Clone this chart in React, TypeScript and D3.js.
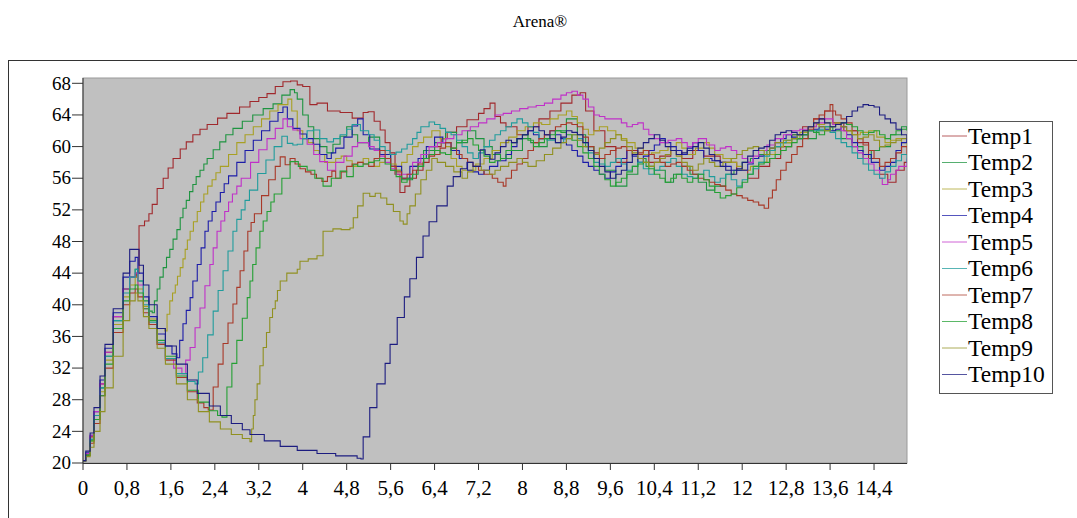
import React from 'react';
import * as d3 from 'd3';

// time (x) / temperature (y) pairs
const temp1 = [[0,20.3],[0.05,21],[0.13,23.3],[0.2,26],[0.31,30],[0.4,34],[0.55,38.5],[0.73,42],[0.85,43.5],[0.97,44],[1.02,50],[1.12,50.6],[1.2,51.5],[1.26,52.7],[1.35,54.7],[1.46,56],[1.55,57.3],[1.64,58.5],[1.77,59.7],[1.88,60.6],[2.0,61.5],[2.13,62.2],[2.26,62.8],[2.45,63.6],[2.62,64.2],[2.85,65],[3.04,65.7],[3.2,66.2],[3.35,66.7],[3.5,67.6],[3.64,68.2],[3.78,68.3],[3.9,67.8],[4.0,67.6],[4.13,65.3],[4.26,65.5],[4.45,64.5],[4.68,64.3],[4.9,63.6],[5.1,64.3],[5.19,64.4],[5.3,63.2],[5.41,62.1],[5.5,60.5],[5.59,59.2],[5.68,56.5],[5.77,54.2],[5.86,55],[5.95,56],[6.07,57],[6.19,58],[6.3,59],[6.4,60],[6.52,61],[6.63,61.8],[6.8,62.5],[6.99,63.4],[7.2,64.2],[7.3,64.8],[7.41,65.5],[7.5,63.8],[7.6,63],[7.7,62.5],[7.9,61.5],[8.1,62.5],[8.3,63.5],[8.5,64.5],[8.7,65.5],[8.9,66.5],[9.05,66.8],[9.15,64.5],[9.3,62],[9.5,60],[9.7,58],[9.9,59.5],[10.1,59],[10.3,58],[10.5,58.8],[10.7,59.5],[10.9,58.5],[11.1,59.5],[11.3,58.8],[11.6,58],[11.9,57],[12.1,56],[12.3,57.5],[12.5,58.5],[12.7,60],[12.9,61.5],[13.1,62.5],[13.3,63.5],[13.5,64.5],[13.65,63],[13.85,62],[14.1,60.5],[14.3,58.5],[14.5,56.5],[14.65,55.5],[14.8,57],[14.95,58],[15,58]];
const temp2 = [[0,20.3],[0.05,21.2],[0.13,23],[0.2,25.5],[0.31,29.5],[0.4,33.5],[0.55,38],[0.73,42],[0.85,43.5],[0.95,44.5],[1.0,43],[1.1,40.5],[1.2,39.2],[1.26,39],[1.3,40.5],[1.35,42],[1.4,43.5],[1.46,44.7],[1.52,46],[1.58,47],[1.64,48.3],[1.71,49.5],[1.77,51],[1.82,52.2],[1.88,53.2],[1.94,54.3],[2.0,55.2],[2.06,56.2],[2.13,57],[2.2,57.8],[2.26,58.5],[2.37,59.6],[2.49,60.6],[2.6,61.5],[2.73,62.3],[2.9,63.2],[3.09,64],[3.28,64.8],[3.46,65.4],[3.62,66.5],[3.77,67.2],[3.85,66.8],[3.9,66],[4.0,64],[4.1,62.5],[4.2,61],[4.31,60],[4.44,59.2],[4.55,60.3],[4.68,61.3],[4.8,62.5],[4.9,61.5],[5.0,60.5],[5.2,61.2],[5.4,59],[5.6,57],[5.8,55.8],[6.0,57.5],[6.2,59.5],[6.4,60.5],[6.6,61.8],[6.8,60.5],[7.0,62],[7.15,61],[7.3,60],[7.45,59],[7.6,58.5],[7.8,59.5],[8.0,61],[8.15,60.5],[8.3,60],[8.45,61],[8.6,62],[8.8,63.5],[9.0,61.5],[9.15,60],[9.3,58.5],[9.5,57],[9.7,55],[9.9,56.5],[10.1,58.5],[10.25,57.5],[10.4,57],[10.6,55.5],[10.75,56.5],[10.9,57.5],[11.05,56.5],[11.2,55.5],[11.35,54.5],[11.5,55],[11.7,56.5],[11.85,57],[12.0,58],[12.15,58.5],[12.3,59],[12.45,59.5],[12.6,60],[12.75,60.5],[12.9,61.5],[13.05,61.5],[13.2,61],[13.35,62],[13.5,62.5],[13.65,62],[13.8,61],[14.0,60],[14.2,58.5],[14.35,59.5],[14.5,60],[14.7,61.5],[14.9,62.5],[15,62]];
const temp3 = [[0,20.3],[0.05,21],[0.13,22.8],[0.2,25.5],[0.31,29],[0.4,33],[0.55,37.5],[0.73,41],[0.85,42.5],[0.95,43.5],[1.0,42],[1.1,39.8],[1.2,38.2],[1.35,37],[1.49,36.7],[1.53,38.8],[1.58,40.5],[1.63,41.5],[1.68,42.5],[1.72,43.6],[1.77,44.7],[1.82,45.8],[1.86,47],[1.9,48.2],[1.95,49.3],[2.01,50.5],[2.08,51.8],[2.14,53],[2.2,54],[2.27,55],[2.35,55.8],[2.42,56.7],[2.5,57.5],[2.65,59],[2.8,60.5],[2.95,61.5],[3.1,62.5],[3.25,63.5],[3.4,64.5],[3.55,65.3],[3.73,66],[3.8,64.5],[3.9,62],[4.0,61],[4.1,60.5],[4.2,59.5],[4.3,59],[4.4,58],[4.5,58],[4.6,58.5],[4.7,58.8],[4.8,58.2],[4.9,57.5],[5.0,58],[5.1,58.5],[5.2,58],[5.3,57.5],[5.4,58],[5.5,58.5],[5.6,57.8],[5.7,57],[5.8,58],[5.9,59],[6.0,60],[6.1,60.5],[6.2,61.2],[6.35,62],[6.5,61],[6.6,60],[6.7,58.5],[6.8,57.5],[6.9,57],[7.0,57],[7.15,57.8],[7.3,58.5],[7.45,59.5],[7.6,60.5],[7.75,61.2],[7.9,62],[8.05,62.5],[8.2,63],[8.35,62.8],[8.5,63.5],[8.65,64],[8.8,64.5],[8.9,63.8],[9.0,63],[9.1,62.2],[9.2,61.5],[9.3,62],[9.4,62.5],[9.55,62],[9.7,61.5],[9.8,61],[9.9,60.5],[10.05,59.8],[10.2,59],[10.35,59.2],[10.5,59.5],[10.65,60],[10.8,60.5],[10.9,59.8],[11.0,59],[11.15,59.8],[11.3,60.5],[11.4,59.8],[11.5,59],[11.65,58.5],[11.8,58],[11.9,57.5],[12.0,57],[12.15,57.5],[12.3,58],[12.45,59],[12.6,60],[12.75,60.5],[12.9,61],[13.05,61.8],[13.2,62.5],[13.35,62.8],[13.5,63],[13.65,62.8],[13.8,62.5],[13.9,62],[14.0,61.5],[14.15,61.8],[14.3,62],[14.45,61.2],[14.6,60.5],[14.7,60.8],[14.8,61],[14.9,60.5],[15,60]];
const temp4 = [[0,20.3],[0.05,21.3],[0.13,23.5],[0.2,26.5],[0.31,30.5],[0.4,34.5],[0.55,39],[0.73,43.5],[0.85,45.5],[0.95,46],[1.0,44],[1.1,41],[1.2,38.5],[1.35,36.3],[1.5,34.8],[1.62,33.8],[1.71,33.3],[1.76,35.5],[1.82,37.6],[1.88,39.3],[1.95,40.9],[2.0,43],[2.08,45.1],[2.15,47.2],[2.22,49.3],[2.28,50.6],[2.35,51.8],[2.42,53],[2.5,54.2],[2.57,55.3],[2.65,56.3],[2.8,58],[2.95,59.5],[3.1,60.8],[3.25,62],[3.4,63.2],[3.55,64.3],[3.64,65],[3.72,63.5],[3.82,62.3],[3.95,61.6],[4.07,61],[4.19,60.3],[4.31,59],[4.44,58.5],[4.52,59.2],[4.6,59.8],[4.75,61.2],[4.9,62.6],[5.0,63.5],[5.1,61.5],[5.22,59.7],[5.4,59],[5.6,57.5],[5.8,56],[5.95,57.5],[6.1,58.5],[6.25,60],[6.4,61.2],[6.55,60.5],[6.7,59.5],[6.85,58.5],[7.0,57],[7.1,56.8],[7.2,56.5],[7.3,57],[7.4,57.5],[7.55,58.2],[7.7,59],[7.8,60],[7.9,61],[8.0,61.5],[8.1,62],[8.2,61.5],[8.3,61],[8.4,61.5],[8.5,62],[8.6,61.5],[8.7,61],[8.8,60.2],[8.9,59.5],[9.0,58.8],[9.1,58],[9.2,57.5],[9.3,57],[9.4,56.5],[9.5,56],[9.6,56.8],[9.7,57.5],[9.8,58.5],[9.9,59.5],[10.0,58.8],[10.1,58],[10.2,58.8],[10.3,59.5],[10.4,60.2],[10.5,61],[10.6,60.5],[10.7,60],[10.8,59.5],[10.9,59],[11.0,59.8],[11.1,60.5],[11.2,59.5],[11.3,58.5],[11.45,58.2],[11.6,58],[11.7,57.5],[11.8,57],[12.0,57],[12.1,57.8],[12.2,58.5],[12.3,58.8],[12.4,59],[12.5,59.8],[12.6,60.5],[12.7,61],[12.8,61.5],[12.9,61.2],[13.0,61],[13.1,61.5],[13.2,62],[13.3,62.2],[13.4,62.5],[13.5,62.2],[13.6,62],[13.7,62.2],[13.8,62.5],[13.9,61.5],[14.0,60.5],[14.1,59.5],[14.2,59],[14.35,58],[14.5,57],[14.6,57.5],[14.7,58],[14.8,59.5],[14.9,60.5],[15,61]];
const temp5 = [[0,20.3],[0.05,21.2],[0.13,23.5],[0.2,26.5],[0.31,30],[0.4,34],[0.55,38.5],[0.73,42],[0.85,43.5],[0.95,44],[1.0,42.5],[1.1,39.5],[1.2,37.5],[1.35,35],[1.5,33.2],[1.65,32],[1.8,31.3],[1.87,33],[1.95,34.6],[2.04,37.1],[2.13,39.6],[2.22,42.4],[2.31,45.1],[2.37,47.2],[2.44,49.3],[2.51,50.6],[2.58,51.8],[2.65,53],[2.72,54],[2.8,55],[2.88,56],[3.05,58],[3.2,59.6],[3.35,61],[3.5,62.3],[3.64,63.5],[3.72,62.5],[3.82,62.1],[3.95,61],[4.08,60.3],[4.2,59],[4.31,58.1],[4.45,57],[4.6,58],[4.75,58.8],[4.9,60],[5.0,60.5],[5.1,60.5],[5.2,60],[5.3,59.5],[5.4,58.8],[5.5,58],[5.6,57.2],[5.7,56.5],[5.85,56.5],[6.0,58],[6.15,59],[6.3,60],[6.45,60.5],[6.6,61],[6.75,61.5],[6.9,62],[7.05,62.5],[7.2,63],[7.35,63.5],[7.5,64],[7.65,64.2],[7.8,64.5],[7.95,64.8],[8.1,65],[8.25,65.2],[8.4,65.5],[8.55,66],[8.7,66.5],[8.8,66.8],[8.9,67],[9.0,66.5],[9.1,66],[9.2,65],[9.3,64],[9.4,63.8],[9.5,63.5],[9.6,63.5],[9.7,63.5],[9.8,63],[9.9,62.5],[10.0,62.8],[10.1,63],[10.2,62.2],[10.3,61.5],[10.4,61],[10.5,60.5],[10.65,60.8],[10.8,61],[10.9,60.5],[11.0,60],[11.1,60.5],[11.2,61],[11.35,60.2],[11.5,59.5],[11.6,59.8],[11.7,60],[11.8,59.5],[11.9,59],[12.0,58.5],[12.1,58],[12.2,58.8],[12.3,59.5],[12.45,60.2],[12.6,61],[12.75,61.5],[12.9,62],[13.05,62.2],[13.2,62.5],[13.35,63],[13.5,63.5],[13.65,62.8],[13.8,62],[13.9,61],[14.0,60],[14.1,59.2],[14.2,58.5],[14.3,57.8],[14.4,57],[14.5,56],[14.55,55.2],[14.65,55.8],[14.7,56.5],[14.8,57],[14.85,57.5],[15,58.5]];
const temp6 = [[0,20.3],[0.05,21],[0.13,23],[0.2,26],[0.31,29.5],[0.4,33.5],[0.55,38],[0.73,41.5],[0.85,43.5],[0.95,44.5],[1.0,43],[1.1,40],[1.2,37.8],[1.35,35.2],[1.5,33.2],[1.7,31.3],[1.9,30.3],[2.04,30],[2.1,31.5],[2.18,33.3],[2.27,36.2],[2.37,39.2],[2.46,41.8],[2.55,44.3],[2.64,46.8],[2.73,49.3],[2.8,50.8],[2.88,52],[2.95,53.2],[3.03,54.5],[3.18,56.6],[3.33,58.3],[3.48,60],[3.62,61.3],[3.72,60.4],[3.82,60.2],[3.9,60.3],[4.0,61],[4.08,62],[4.19,62.1],[4.31,61],[4.44,60.6],[4.56,61],[4.68,61.5],[4.8,62.2],[4.9,62.8],[5.05,62],[5.2,61.5],[5.3,60.8],[5.4,60],[5.5,59.5],[5.59,59],[5.7,59.3],[5.8,59.7],[5.9,60.3],[6.0,61],[6.08,61.8],[6.15,62.5],[6.3,63.1],[6.4,62.8],[6.5,62.3],[6.6,61.8],[6.7,61.5],[6.8,60.8],[6.9,60],[7.0,59.2],[7.1,58.5],[7.2,59.2],[7.3,60],[7.4,60.8],[7.5,61.5],[7.6,62],[7.7,62.5],[7.8,63],[7.9,63.5],[8.0,63],[8.1,62.5],[8.2,61.8],[8.3,61],[8.45,60.8],[8.6,60.5],[8.75,61],[8.9,61.5],[9.0,61],[9.1,60.5],[9.2,59.2],[9.3,58],[9.4,57.8],[9.5,57.5],[9.6,58],[9.7,58.5],[9.8,57.8],[9.9,57],[10.0,57.5],[10.1,58],[10.2,57.2],[10.3,56.5],[10.4,57],[10.5,57.5],[10.6,58],[10.7,58.5],[10.8,57.5],[10.9,56.5],[11.0,56.2],[11.1,56],[11.2,56.5],[11.3,57],[11.4,56.2],[11.5,55.5],[11.6,56],[11.7,56.5],[11.8,55.8],[11.9,55],[12.0,55.8],[12.1,56.5],[12.2,57.2],[12.3,58],[12.4,58.8],[12.5,59.5],[12.6,60],[12.7,60.5],[12.8,60.8],[12.9,61],[13.0,61.5],[13.1,62],[13.2,62],[13.3,62],[13.4,62.2],[13.5,62.5],[13.6,61.8],[13.7,61],[13.8,60.5],[13.9,60],[14.0,59.2],[14.1,58.5],[14.2,57.8],[14.3,57],[14.4,56.5],[14.5,56],[14.6,56.8],[14.7,57.5],[14.8,58.2],[14.9,59],[15,58]];
const temp7 = [[0,20.3],[0.05,21],[0.13,22.5],[0.2,25],[0.31,28.5],[0.4,32],[0.55,36.5],[0.73,40],[0.85,41.5],[0.95,42],[1.0,41],[1.1,39],[1.2,37.5],[1.35,35],[1.5,33],[1.7,30.8],[1.9,29],[2.08,27.6],[2.2,27],[2.28,26.7],[2.37,29.6],[2.46,32.5],[2.55,35.1],[2.64,37.7],[2.73,40.1],[2.8,42.2],[2.86,44.3],[2.93,46.8],[3.0,49.3],[3.06,50.4],[3.12,51.5],[3.25,53.8],[3.38,55.8],[3.5,57.5],[3.59,58.7],[3.68,57.7],[3.77,58.5],[3.86,57.8],[3.95,57.2],[4.05,56.8],[4.15,56.5],[4.25,56],[4.35,55.6],[4.45,56.2],[4.53,56.9],[4.6,56],[4.7,56.8],[4.8,57.5],[4.9,57.8],[5.0,58],[5.1,57.8],[5.2,57.5],[5.3,58.5],[5.4,59.5],[5.5,58.5],[5.6,57.5],[5.7,56.8],[5.8,56],[5.9,56.5],[6.0,57],[6.1,57.8],[6.2,58.5],[6.3,58.8],[6.4,59],[6.5,59.8],[6.6,60.5],[6.7,59.8],[6.8,59],[6.9,58.5],[7.0,58],[7.1,57.5],[7.2,57],[7.3,56.5],[7.45,56],[7.55,55.5],[7.65,55],[7.7,56],[7.8,57],[7.9,57.8],[8.0,58.5],[8.1,59.5],[8.2,60.5],[8.3,61],[8.4,61.5],[8.5,62],[8.6,62.5],[8.7,62.8],[8.8,63],[8.9,62.8],[9.0,62.5],[9.1,61.2],[9.2,60],[9.3,59.2],[9.4,58.5],[9.5,59],[9.6,59.5],[9.7,59.8],[9.8,60],[9.9,59.5],[10.0,59],[10.1,59.2],[10.2,59.5],[10.3,59],[10.4,58.5],[10.5,58],[10.6,57.5],[10.7,57.8],[10.8,58],[10.9,57.5],[11.0,57],[11.1,56.5],[11.2,56],[11.3,55.8],[11.4,55.5],[11.5,55.2],[11.6,55],[11.7,54.5],[11.8,54],[11.9,53.8],[12.0,53.5],[12.1,53.2],[12.2,53],[12.3,52.6],[12.4,52.2],[12.48,53.5],[12.55,54.5],[12.62,55.8],[12.7,57],[12.8,58],[12.9,59],[13.0,60],[13.1,61],[13.2,62.2],[13.3,63.5],[13.4,64],[13.5,64.5],[13.6,65.3],[13.65,64.5],[13.7,64],[13.8,63.5],[13.9,63],[14.0,62],[14.1,61],[14.2,60.2],[14.3,59.5],[14.4,58.5],[14.5,57.5],[14.6,58],[14.7,58.5],[14.8,59.2],[14.9,60],[15,59]];
const temp8 = [[0,20.3],[0.05,21],[0.13,22.8],[0.2,25.5],[0.31,28.5],[0.4,32.5],[0.55,37],[0.73,40.5],[0.85,42],[0.95,42.5],[1.0,41.5],[1.1,39.5],[1.2,38],[1.35,35.5],[1.5,33.5],[1.7,31],[1.9,29.2],[2.1,27.7],[2.3,26.6],[2.45,26],[2.53,25.8],[2.62,29.6],[2.71,32.6],[2.8,35.5],[2.9,38.3],[2.99,40.9],[3.04,43],[3.09,45.1],[3.15,47.2],[3.22,49.3],[3.28,50.6],[3.35,51.8],[3.42,53],[3.48,54],[3.62,56],[3.77,58.1],[3.92,57.5],[4.08,57],[4.22,56],[4.37,55],[4.52,56],[4.68,56.9],[4.8,56.2],[4.92,57.7],[5.0,57.5],[5.1,57.8],[5.2,58],[5.3,58.2],[5.4,58.5],[5.5,57.8],[5.6,57],[5.7,56.2],[5.8,55.5],[5.9,56],[6.0,56.5],[6.1,57.5],[6.2,58.5],[6.3,59],[6.4,59.5],[6.5,59.2],[6.6,59],[6.7,59.8],[6.8,60.5],[6.9,60.8],[7.0,61],[7.1,60.2],[7.2,59.5],[7.3,58.8],[7.4,58],[7.5,58.2],[7.6,58.5],[7.7,59.5],[7.8,60.5],[7.9,61],[8.0,61.5],[8.1,60.8],[8.2,60],[8.3,60.5],[8.4,61],[8.5,61.5],[8.6,62],[8.7,61.8],[8.8,61.5],[8.9,60.8],[9.0,60],[9.1,59.2],[9.2,58.5],[9.3,57.5],[9.4,56.5],[9.5,55.8],[9.6,55],[9.7,55.5],[9.8,56],[9.9,56.8],[10.0,57.5],[10.1,57.8],[10.2,58],[10.3,57.2],[10.4,56.5],[10.5,56],[10.6,55.5],[10.7,56],[10.8,56.5],[10.9,56],[11.0,55.5],[11.1,56],[11.2,56.5],[11.3,55.8],[11.4,55],[11.5,54.2],[11.6,53.5],[11.7,53.8],[11.8,54],[11.9,54.8],[12.0,55.5],[12.1,56.5],[12.2,57.5],[12.3,57.8],[12.4,58],[12.5,58.5],[12.6,59],[12.7,59.5],[12.8,60],[12.9,60.5],[13.0,61],[13.1,61.5],[13.2,62],[13.3,61.8],[13.4,61.5],[13.5,62],[13.6,62.5],[13.7,62.8],[13.8,63],[13.9,62.8],[14.0,62.5],[14.1,62],[14.2,61.5],[14.3,61.8],[14.4,62],[14.5,61.5],[14.6,61],[14.7,61.5],[14.8,62],[14.9,62.2],[15,62.5]];
const temp9 = [[0,20.3],[0.05,20.8],[0.13,22],[0.2,24],[0.31,26.5],[0.4,29.5],[0.55,33.5],[0.73,38],[0.85,40.5],[0.95,41.5],[1.0,40.5],[1.1,38.5],[1.2,37],[1.35,34.5],[1.5,32.5],[1.7,30],[1.9,28],[2.1,26.5],[2.3,25.2],[2.5,24.3],[2.7,23.6],[2.9,23.1],[3.04,22.7],[3.07,24.3],[3.1,26],[3.13,28],[3.17,30],[3.22,32.3],[3.28,34.6],[3.34,36.5],[3.4,38.4],[3.45,39.5],[3.5,40.5],[3.54,41.8],[3.59,43],[3.71,44],[3.9,44.5],[3.95,45.5],[4.1,45.8],[4.26,46.2],[4.37,49.3],[4.55,49.6],[4.7,49.5],[4.86,49.7],[4.92,51],[5.0,52.5],[5.1,54.1],[5.22,53.7],[5.32,54.1],[5.42,53.5],[5.53,52.7],[5.65,51.8],[5.77,50.6],[5.83,50.2],[5.9,51.5],[5.95,52.5],[6.05,54],[6.15,55.8],[6.25,57],[6.35,58.5],[6.45,58],[6.6,57.5],[6.75,56.8],[6.9,56],[7.0,56.8],[7.1,57.5],[7.25,57],[7.4,56.5],[7.5,57],[7.6,57.5],[7.75,58],[7.9,58.5],[8.0,58],[8.1,57.5],[8.25,58.2],[8.4,59],[8.55,59.8],[8.7,60.5],[8.8,61],[8.9,61.5],[9.0,60.8],[9.1,60],[9.2,59.5],[9.3,59],[9.4,59.8],[9.5,60.5],[9.6,61],[9.7,61.5],[9.8,60.8],[9.9,60],[10.0,59.2],[10.1,58.5],[10.2,58],[10.3,57.5],[10.4,58],[10.5,58.5],[10.6,59],[10.7,59.5],[10.8,58.8],[10.9,58],[11.0,57.5],[11.1,57],[11.2,57.8],[11.3,58.5],[11.4,58],[11.5,57.5],[11.65,58],[11.8,58.5],[11.9,59],[12.0,59.5],[12.1,59.8],[12.2,60],[12.3,59.5],[12.4,59],[12.5,59.8],[12.6,60.5],[12.75,60.8],[12.9,61],[13.0,61.5],[13.1,62],[13.2,62.5],[13.3,63],[13.4,62.5],[13.5,62],[13.6,62.5],[13.7,63],[13.8,62.5],[13.9,62],[14.0,61.5],[14.1,61],[14.2,61.2],[14.3,61.5],[14.4,60.8],[14.5,60],[14.6,60.2],[14.7,60.5],[14.8,60.8],[14.9,61],[15,61.5]];
const temp10 = [[0,20.3],[0.05,21.5],[0.13,23.8],[0.2,27],[0.31,31],[0.4,35],[0.55,39.5],[0.73,44],[0.85,47],[0.97,47],[1.02,45],[1.1,42.5],[1.2,40],[1.35,37],[1.5,34.8],[1.7,32.5],[1.9,30.5],[2.08,28.8],[2.3,27.2],[2.5,26],[2.7,25],[2.9,24.2],[3.04,23.6],[3.3,22.8],[3.59,22.1],[3.9,21.6],[4.26,21.2],[4.6,20.9],[4.99,20.6],[5.06,20.5],[5.1,23.3],[5.22,27],[5.35,30],[5.5,32.6],[5.59,35],[5.72,38.4],[5.85,41],[5.95,43.3],[6.07,46],[6.19,48.7],[6.3,50.5],[6.44,52.5],[6.63,55],[6.74,56.2],[6.87,57.2],[6.99,58],[7.1,57.5],[7.23,59.6],[7.32,59],[7.41,58.4],[7.5,59.2],[7.6,60],[7.7,60.8],[7.8,60.5],[7.9,61],[8.0,61.5],[8.1,62],[8.2,62.5],[8.3,62],[8.4,61.5],[8.5,61],[8.6,60.5],[8.7,61.2],[8.8,62],[8.9,61.8],[9.0,61.5],[9.1,60.5],[9.2,59.5],[9.3,58.5],[9.4,57.5],[9.5,56.8],[9.6,56],[9.7,56.5],[9.8,57],[9.9,58],[10.0,59],[10.1,59.8],[10.2,60.5],[10.3,61],[10.4,61.5],[10.5,60.8],[10.6,60],[10.7,59.5],[10.8,59],[10.9,59.2],[11.0,59.5],[11.1,60],[11.2,60.5],[11.3,59.8],[11.4,59],[11.5,58.2],[11.6,57.5],[11.7,57],[11.8,56.5],[11.9,57.2],[12.0,58],[12.1,58.8],[12.2,59.5],[12.3,59.8],[12.4,60],[12.5,60.8],[12.6,61.5],[12.7,61.8],[12.8,62],[12.9,61.8],[13.0,61.5],[13.1,62],[13.2,62.5],[13.3,63],[13.4,63.5],[13.5,63],[13.6,62.5],[13.7,62.8],[13.8,63],[13.9,63.8],[14.0,64.5],[14.1,65],[14.2,65.3],[14.3,65.2],[14.4,65],[14.5,64],[14.6,63.5],[14.7,63],[14.8,62.2],[14.9,61.5],[15,60.5]];

const seriesNames = ['Temp1', 'Temp2', 'Temp3', 'Temp4', 'Temp5', 'Temp6', 'Temp7', 'Temp8', 'Temp9', 'Temp10'];
const seriesData = [temp1, temp2, temp3, temp4, temp5, temp6, temp7, temp8, temp9, temp10];
const seriesColors = ['#a0282c', '#1e9440', '#a8a024', '#1c1ca8', '#c030c8', '#209c9c', '#a83828', '#24a034', '#909020', '#1c1c80'];

const xTicks = [0, 0.8, 1.6, 2.4, 3.2, 4, 4.8, 5.6, 6.4, 7.2, 8, 8.8, 9.6, 10.4, 11.2, 12, 12.8, 13.6, 14.4];
const yTicks = [20, 24, 28, 32, 36, 40, 44, 48, 52, 56, 60, 64, 68];

const W = 1077;
const H = 518;
const plot = { left: 83, right: 907, top: 78, bottom: 463 };
const serif = { fontFamily: "'Liberation Serif', 'Times New Roman', Times, serif" };

export default function App() {
  const x = d3.scaleLinear().domain([0, 15]).range([plot.left, plot.right]);
  const y = d3.scaleLinear().domain([20, 68.67]).range([plot.bottom, plot.top]);

  // Arena plots sampled values, so the traces are stair steps
  const line = d3.line<number[]>()
    .x(d => x(d[0]))
    .y(d => y(d[1]))
    .curve(d3.curveStepAfter);

  const legendX = 939;
  const legendY = 121;
  const rowH = 26.5;

  return (
    <svg width={W} height={H} style={{ position: 'absolute', left: 0, top: 0, background: '#fff' }}>
      <defs>
        <clipPath id="plotClip">
          <rect x={plot.left} y={plot.top} width={plot.right - plot.left} height={plot.bottom - plot.top} />
        </clipPath>
      </defs>

      <text x={540} y={27} textAnchor="middle" style={serif} fontSize={17} fill="#000">Arena®</text>

      {/* outer frame */}
      <rect x={8.5} y={60.5} width={1090} height={480} fill="none" stroke="#333" strokeWidth={1} />

      {/* plot background */}
      <rect x={plot.left} y={plot.top} width={plot.right - plot.left} height={plot.bottom - plot.top}
        fill="#c0c0c0" stroke="#9a9a9a" strokeWidth={1} />

      <g clipPath="url(#plotClip)">
        {seriesData.map((s, i) => (
          <path key={seriesNames[i]} d={line(s) || ''} fill="none" stroke={seriesColors[i]} strokeWidth={1.1} />
        ))}
      </g>

      {/* axes */}
      <line x1={plot.left} x2={plot.left} y1={plot.top} y2={plot.bottom} stroke="#333" />
      <line x1={plot.left} x2={plot.right} y1={plot.bottom + 0.5} y2={plot.bottom + 0.5} stroke="#333" />

      {yTicks.map(t => (
        <g key={'y' + t}>
          <line x1={plot.left - 11} x2={plot.left} y1={y(t)} y2={y(t)} stroke="#333" />
          <text x={plot.left - 12} y={y(t)} dy="0.33em" textAnchor="end" style={serif} fontSize={19} fill="#000">{t}</text>
        </g>
      ))}

      {xTicks.map(t => (
        <g key={'x' + t}>
          <line x1={x(t)} x2={x(t)} y1={plot.bottom} y2={plot.bottom + 7} stroke="#333" />
          <text x={x(t)} y={495} textAnchor="middle" style={serif} fontSize={21} fill="#000">
            {String(t).replace('.', ',')}
          </text>
        </g>
      ))}

      {/* legend */}
      <rect x={legendX + 0.5} y={legendY + 0.5} width={113} height={272} fill="#fff" stroke="#555" />
      {seriesNames.map((name, i) => {
        const cy = legendY + 15 + i * rowH;
        return (
          <g key={name}>
            <line x1={legendX + 3} x2={legendX + 28} y1={cy} y2={cy} stroke={seriesColors[i]} strokeOpacity={0.75} />
            <text x={legendX + 29} y={cy} dy="0.33em" style={serif} fontSize={23.5} fill="#000">{name}</text>
          </g>
        );
      })}
    </svg>
  );
}
